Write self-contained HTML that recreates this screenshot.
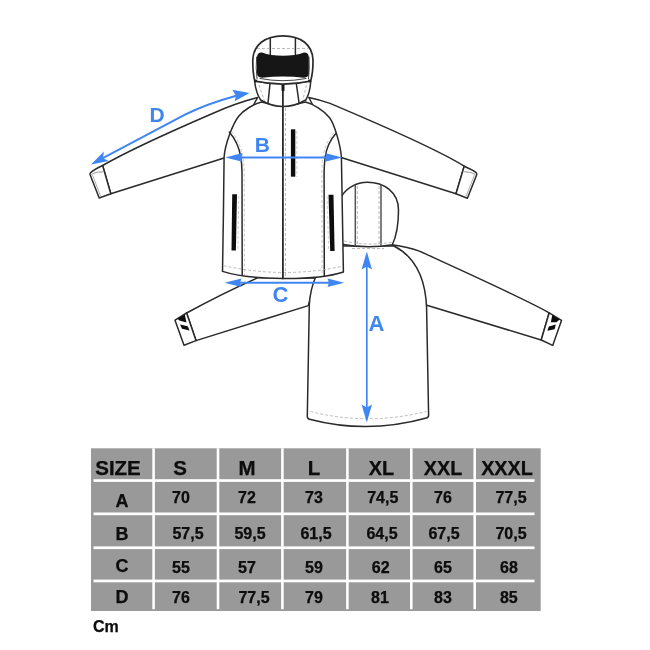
<!DOCTYPE html>
<html>
<head>
<meta charset="utf-8">
<title>Size chart</title>
<style>
html,body{margin:0;padding:0;background:#fff;}
body{width:650px;height:650px;overflow:hidden;position:relative;font-family:"Liberation Sans",sans-serif;}
svg{position:absolute;left:0;top:0;display:block;}
.ln{fill:none;stroke:#2a2a2a;stroke-width:1.5;stroke-linecap:round;stroke-linejoin:round;}
.lw{fill:#fff;stroke:#2a2a2a;stroke-width:1.5;stroke-linecap:round;stroke-linejoin:round;}
.ds{fill:none;stroke:#a8a8a8;stroke-width:0.8;stroke-dasharray:3 2;}
.gs{fill:none;stroke:#555;stroke-width:1.5;}
.bl{fill:none;stroke:#3f86f3;stroke-width:2;}
.bf{fill:#3f86f3;stroke:none;}
.bt{fill:#3f86f3;font-family:"Liberation Sans",sans-serif;font-weight:bold;font-size:22px;text-anchor:middle;}
.th{stroke:#0a0a0a;stroke-width:0.25px;fill:#0a0a0a;font-family:"Liberation Sans",sans-serif;font-weight:bold;font-size:20.5px;text-anchor:middle;}
.td{stroke:#0a0a0a;stroke-width:0.25px;fill:#0a0a0a;font-family:"Liberation Sans",sans-serif;font-weight:bold;font-size:16px;text-anchor:middle;}
.tl{stroke:#0a0a0a;stroke-width:0.25px;fill:#0a0a0a;font-family:"Liberation Sans",sans-serif;font-weight:bold;font-size:18px;text-anchor:middle;}
.cm{stroke:#0a0a0a;stroke-width:0.25px;fill:#0a0a0a;font-family:"Liberation Sans",sans-serif;font-weight:bold;font-size:16px;}
</style>
</head>
<body>
<svg width="650" height="650" viewBox="0 0 650 650">
<defs><filter id="soft" x="0" y="0" width="650" height="650" filterUnits="userSpaceOnUse"><feGaussianBlur stdDeviation="0.45"/></filter></defs>
<rect x="0" y="0" width="650" height="650" fill="#ffffff"/>
<g filter="url(#soft)">

<!-- ================= BACK VIEW ================= -->
<g id="back">
  <!-- left sleeve -->
  <path class="lw" d="M186.6,313 Q222,293.5 258,277.6 L316,278 L308.3,305.6 L196,340.6 Z"/>
  <path class="lw" d="M175,320.2 L186.6,313 L196,340.6 L184,345.2 Z"/>
  <path d="M177.5,318.7 L184.8,314.6 L186.5,322.5 L179.3,320.6 Z" fill="#111"/>
  <path d="M180,324.5 L187.7,326.2 L189.6,330.6 L182,328.8 Z" fill="#111"/>
  <!-- right sleeve -->
  <path class="lw" d="M392,244.8 Q408,247 420,251.4 C460,269.8 525,299 549.2,312.8 L541.2,340 L426,305 Z"/>
  <path class="lw" d="M549.2,312.8 L561.5,320.4 L552.7,345.4 L541.2,340 Z"/>
  <path d="M552.3,315 L559.6,319.4 L556.5,322.3 L550.8,322.3 Z" fill="#111"/>
  <path d="M548.8,326.5 L555.8,324.6 L554.6,329.2 L547.3,330.8 Z" fill="#111"/>
  <!-- body -->
  <path class="lw" d="M316,276 Q310,290 309.3,305 L307.3,416 Q307.2,418.6 309.5,419.2 Q367.5,434.4 426.4,418 Q428.7,417.4 428.6,415 L426.6,308 Q425,262 394,246 L343,246 Z"/>
  <path class="ds" d="M310.5,411.5 Q367.5,426 426.5,411.5"/>
  <!-- hood -->
  <path class="lw" d="M340,244 L340,199 Q341,197.5 341.8,196 C346,188.5 356,182.2 367.4,182.2 C384,182.2 398.5,192 398.5,210 C398.5,225 396.5,236 392.3,244.8 Q367.4,249.2 340,244 Z"/>
  <path class="gs" d="M355.3,184.5 L355.3,246.3"/>
  <path class="ds" d="M357.3,186 L357.3,245"/>
  <path class="gs" d="M381,184.8 L381,246"/>
  <path class="ds" d="M379,186 L379,245"/>
  <path class="ds" d="M344,241 Q367,246.5 393,242"/>
  <path class="ds" d="M352,248.5 L384,248.5"/>
</g>

<!-- ================= FRONT VIEW ================= -->
<g id="front">
  <!-- left sleeve -->
  <path class="lw" d="M257.6,97.5 Q236,103 212,113.7 C180,127.5 125,152.5 102.6,165.5 L110.8,193.7 L224.1,158 L240,130 Z"/>
  <path class="lw" d="M102.6,165.5 Q93,170 90.5,172.8 Q89.6,173.8 90.2,175 L99.2,198 L110.8,193.7 Z"/>
  <path class="ln" d="M91.8,174.2 Q96,171.4 102.8,171.8" style="stroke-width:0.8;stroke:#777"/>
  <path class="gs" d="M92.5,175 L100.5,196" style="stroke-width:0.8;stroke:#999"/>
  <!-- right sleeve -->
  <path class="lw" d="M308.8,97.5 Q320,99.8 330,103.4 C375,122.4 440,151 464.2,166.2 L456,193.7 L341.2,157.5 L326,130 Z"/>
  <path class="lw" d="M464.2,166.2 Q473.5,170.2 476.2,172.8 Q477.2,173.8 476.6,175 L467.4,198.2 L456,193.7 Z"/>
  <path class="ln" d="M475,174.2 Q470.5,171.4 464.6,171.8" style="stroke-width:0.8;stroke:#777"/>
  <path class="gs" d="M474.5,175 L466,196.5" style="stroke-width:0.8;stroke:#999"/>
  <!-- body -->
  <path class="lw" d="M261.6,102.1 C254,103.8 243.5,110 238.5,116.5 C233,123.5 225,144 224.1,157 L223.4,215 L222.5,271.4 C250,280.3 315,281.3 343.4,272 L341.4,157 C340.6,146 334.6,124.2 329.6,117.7 C324,110.5 313,103.8 305.4,102.1 Q283,109 261.6,102.1 Z"/>
  <!-- side panels -->
  <path class="ln" d="M229.3,132.1 C234,137.5 239,147 240.8,157 Q241.8,163 242,172 L242.2,275.6"/>
  <path class="ds" d="M231.5,131.4 C236.2,136.8 241.2,146.5 243,157 Q244,163 244.2,172 L244.4,275" style="stroke:#bbb"/>
  <path class="ln" d="M336,133.3 C331,139 326.5,148 325.2,157 Q324.3,163 324.1,172 L324.3,275.8"/>
  <path class="ds" d="M333.8,132.6 C328.8,138.4 324.3,147.5 323,157 Q322.1,163 321.9,172 L322.1,275" style="stroke:#bbb"/>
  <!-- hem -->
  <path class="ds" d="M223.5,265.6 Q283,279 342.5,266.3"/>
  <!-- pockets -->
  <rect x="290.9" y="129.3" width="4.4" height="47.4" fill="#111"/>
  <path d="M232.2,194.2 L237,194.2 L235.9,250.4 L231.5,250.4 Z" fill="#111"/>
  <path d="M328.5,194.8 L333.5,194.8 L334.6,251 L330.2,251 Z" fill="#111"/>
  <path class="ds" d="M296.8,131 L296.8,177" style="stroke:#c8c8c8"/>
  <path class="ds" d="M238.8,196 L237.8,250" style="stroke:#c8c8c8"/>
  <path class="ds" d="M327.2,196 L328.6,250" style="stroke:#c8c8c8"/>
  <!-- collar -->
  <path class="lw" d="M254.6,81 Q256,93 260.6,100 Q283,113.2 305.8,100 Q310,93 310.8,81 Q283,87 254.6,81 Z"/>
  <path class="ln" d="M270,83.5 L268,103"/>
  <path class="ln" d="M296.3,83.5 L299,102.5"/>
  <path class="ds" d="M259,85 L264.5,101"/>
  <path class="ds" d="M306.5,85 L302.5,101"/>
  <!-- zipper -->
  <path class="ln" d="M282.9,85 L282.9,278.4" style="stroke-width:1.8"/>
  <path class="ds" d="M285.4,108 L285.4,277"/>
  <rect x="281.5" y="84.3" width="3" height="7" rx="1" fill="#1a1a1a"/>
  <!-- hood -->
  <path class="lw" d="M254.8,81 C253,74 252.7,68 252.8,60 C253.2,45 265,35.8 283,35.8 C301,35.8 312.6,45 313,60 C313.1,68 312.8,74 310.6,81 Q283,87 254.8,81 Z" style="stroke-width:1.7"/>
  <path class="ln" d="M257,79 Q255.6,68 256.6,57" style="stroke-width:0.9"/>
  <path class="ln" d="M308.5,79 Q309.8,68 309,57" style="stroke-width:0.9"/>
  <path class="ln" d="M270.3,38.5 L270.3,54.5"/>
  <path class="ln" d="M295.4,38.5 L295.4,54.5"/>
  <path class="ds" d="M257,48.5 L308,48.5"/>
  <path d="M257,57.5 Q257,52.2 262,52.4 C273,56.8 293,56.8 304,52.4 Q308.8,52.2 308.8,57.5 L308.8,73 Q308.8,77.6 304,77.7 Q283,75.4 262,77.7 Q257,77.6 257,73 Z" fill="#161616"/>
  <path class="ln" d="M260,78.5 Q283,83 306,78.5" style="stroke-width:0.9"/>
  <circle cx="255.6" cy="81" r="1.6" fill="#222"/>
  <circle cx="309.6" cy="81" r="1.6" fill="#222"/>
</g>

<!-- ================= ARROWS ================= -->
<g id="arrows">
  <!-- D -->
  <path class="bl" d="M100,159.6 L185,114.7 C200,107 222,99.6 238,95.2"/>
  <path class="bf" d="M91,164.4 L103.9,151.6 L103,158.2 L108.7,161 Z"/>
  <path class="bf" d="M249.6,93 L232.3,89.8 L236,95.8 L234.6,101.2 Z"/>
  <text class="bt" x="157.2" y="121.8" style="font-size:21px">D</text>
  <!-- B -->
  <path class="bl" d="M234,157.4 L334,157.4"/>
  <path class="bf" d="M225.2,157.4 L242.5,153 L241,157.4 L242.5,161.8 Z"/>
  <path class="bf" d="M342.2,157.4 L325,153 L326.5,157.4 L325,161.8 Z"/>
  <text class="bt" x="262.4" y="151.6" style="font-size:21px">B</text>
  <!-- C -->
  <path class="bl" d="M234,282.8 L335,282.8"/>
  <path class="bf" d="M224.5,282.8 L241.5,278.6 L240,282.8 L241.5,287 Z"/>
  <path class="bf" d="M344.2,282.8 L327.5,278.6 L329,282.8 L327.5,287 Z"/>
  <text class="bt" x="280.5" y="302.3">C</text>
  <!-- A -->
  <path class="bl" d="M366.8,260 L366.8,414" style="stroke-width:1.7"/>
  <path class="bf" d="M366.8,251.5 L361.6,269.5 L366.8,266.6 L372,269.5 Z"/>
  <path class="bf" d="M366.8,422.5 L361.6,404.5 L366.8,407.4 L372,404.5 Z"/>
  <text class="bt" x="376.5" y="330.6">A</text>
</g>

<!-- ================= TABLE ================= -->
<g id="table">
  <rect x="91" y="448.3" width="449.7" height="162.7" fill="#999999"/>
  <g fill="#ffffff">
    <rect x="152.3" y="448.3" width="2.6" height="160.9"/>
    <rect x="216.7" y="448.3" width="2.6" height="160.9"/>
    <rect x="281.1" y="448.3" width="2.6" height="160.9"/>
    <rect x="346.1" y="448.3" width="2.6" height="160.9"/>
    <rect x="410.0" y="448.3" width="2.6" height="160.9"/>
    <rect x="473.4" y="448.3" width="2.6" height="160.9"/>
    <rect x="93.5" y="479.20" width="441" height="2.7"/>
    <rect x="93.5" y="512.50" width="441" height="2.7"/>
    <rect x="93.5" y="546.40" width="441" height="2.7"/>
    <rect x="93.5" y="579.60" width="441" height="2.7"/>
  </g>
  <text class="th" x="118" y="474.5">SIZE</text>
  <text class="th" x="180" y="474.5">S</text>
  <text class="th" x="247" y="474.5">M</text>
  <text class="th" x="314" y="474.5">L</text>
  <text class="th" x="381.5" y="474.5" style="font-size:19.8px">XL</text>
  <text class="th" x="443" y="474.5" style="font-size:19.8px">XXL</text>
  <text class="th" x="507" y="474.5" style="font-size:19.8px">XXXL</text>

  <text class="tl" x="122" y="506.5">A</text>
  <text class="td" x="181" y="503">70</text>
  <text class="td" x="247" y="503">72</text>
  <text class="td" x="314" y="503">73</text>
  <text class="td" x="382.8" y="503">74,5</text>
  <text class="td" x="443" y="503">76</text>
  <text class="td" x="511" y="503">77,5</text>

  <text class="tl" x="122" y="540">B</text>
  <text class="td" x="188" y="538.5">57,5</text>
  <text class="td" x="250" y="538.5">59,5</text>
  <text class="td" x="316" y="538.5">61,5</text>
  <text class="td" x="382" y="538.5">64,5</text>
  <text class="td" x="444" y="538.5">67,5</text>
  <text class="td" x="511" y="538.5">70,5</text>

  <text class="tl" x="122" y="572">C</text>
  <text class="td" x="181" y="573">55</text>
  <text class="td" x="247" y="573">57</text>
  <text class="td" x="314" y="573">59</text>
  <text class="td" x="380.7" y="573">62</text>
  <text class="td" x="443" y="573">65</text>
  <text class="td" x="509" y="573">68</text>

  <text class="tl" x="122" y="603">D</text>
  <text class="td" x="181" y="603">76</text>
  <text class="td" x="254" y="603">77,5</text>
  <text class="td" x="314" y="603">79</text>
  <text class="td" x="380" y="603">81</text>
  <text class="td" x="443" y="603">83</text>
  <text class="td" x="508.8" y="603">85</text>

  <text class="cm" x="93" y="631.6">Cm</text>
</g>
</g>
</svg>
</body>
</html>
